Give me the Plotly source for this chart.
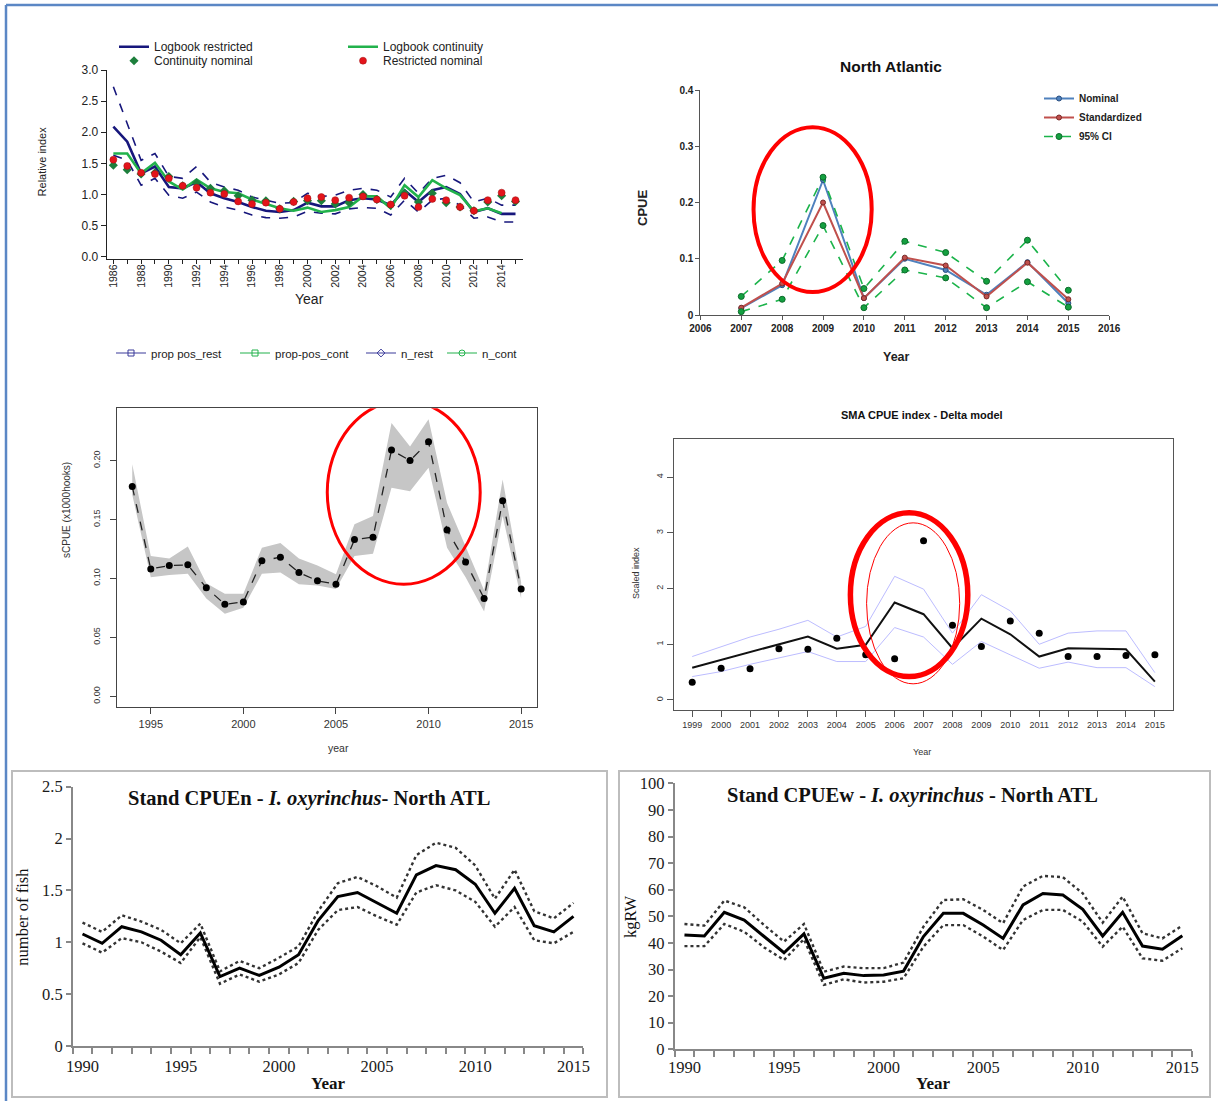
import plotly.graph_objects as go

W, H = 1218, 1101


def fx(p):
    return p / W


def fy(p):
    return 1 - p / H


# ---------------- data ----------------
# Panel 1: Logbook indices
p1_years = list(range(1986, 2016))
p1_restricted = [2.09, 1.85, 1.34, 1.45, 1.12, 1.10, 1.20, 1.02, 0.94, 0.88, 0.80, 0.74, 0.72, 0.75, 0.87,
                 0.81, 0.81, 0.91, 0.94, 0.92, 0.83, 1.07, 0.88, 1.07, 1.12, 1.01, 0.72, 0.78, 0.69, 0.69]
p1_upper = [2.73, 2.14, 1.55, 1.66, 1.29, 1.26, 1.45, 1.20, 1.12, 1.07, 0.96, 0.91, 0.86, 0.87, 1.02,
            0.97, 0.99, 1.07, 1.10, 1.07, 0.96, 1.26, 1.02, 1.26, 1.31, 1.19, 0.88, 0.94, 0.83, 0.83]
p1_lower = [1.63, 1.55, 1.15, 1.26, 0.99, 0.94, 1.04, 0.88, 0.80, 0.75, 0.67, 0.63, 0.62, 0.64, 0.73,
            0.70, 0.69, 0.77, 0.79, 0.78, 0.67, 0.91, 0.72, 0.91, 0.94, 0.83, 0.62, 0.64, 0.56, 0.56]
p1_cont_years = list(range(1986, 2015))
p1_continuity = [1.66, 1.66, 1.34, 1.51, 1.21, 1.08, 1.24, 1.10, 1.04, 1.02, 0.92, 0.85, 0.78, 0.74, 0.79,
                 0.72, 0.75, 0.80, 0.97, 0.97, 0.78, 1.15, 0.96, 1.23, 1.10, 0.99, 0.73, 0.78, 0.70]
p1_cont_nominal = [1.47, 1.40, 1.33, 1.35, 1.29, 1.14, 1.19, 1.10, 1.06, 0.98, 0.91, 0.90, 0.77, 0.89, 0.90,
                   0.90, 0.85, 0.87, 1.00, 0.92, 0.83, 1.02, 0.88, 1.02, 0.87, 0.80, 0.74, 0.88, 0.98, 0.89]
p1_rest_nominal = [1.56, 1.46, 1.35, 1.33, 1.26, 1.14, 1.11, 1.03, 1.01, 0.89, 0.85, 0.87, 0.77, 0.88, 0.94,
                   0.96, 0.91, 0.95, 0.97, 0.92, 0.84, 0.98, 0.80, 0.93, 0.91, 0.80, 0.74, 0.91, 1.03, 0.91]
p1_xticktext = [str(y) if y % 2 == 0 else "" for y in p1_years]
p1_yticks = [0.0, 0.5, 1.0, 1.5, 2.0, 2.5, 3.0]

# Panel 2: North Atlantic
p2_years = list(range(2007, 2016))
p2_nominal = [0.012, 0.053, 0.240, 0.030, 0.100, 0.080, 0.036, 0.094, 0.021]
p2_standardized = [0.013, 0.056, 0.200, 0.030, 0.102, 0.088, 0.033, 0.093, 0.028]
p2_ci_upper = [0.033, 0.097, 0.245, 0.047, 0.131, 0.111, 0.060, 0.133, 0.044]
p2_ci_lower = [0.006, 0.028, 0.159, 0.013, 0.080, 0.066, 0.013, 0.059, 0.014]
p2_xticks = list(range(2006, 2017))
p2_yticks = [0, 0.1, 0.2, 0.3, 0.4]
p2_yticktext = ["0", "0.1", "0.2", "0.3", "0.4"]

# Panel 3: sCPUE
p3_years = list(range(1994, 2016))
p3_scpue = [0.178, 0.108, 0.111, 0.1115, 0.092, 0.078, 0.080, 0.115, 0.118, 0.105, 0.098,
            0.095, 0.133, 0.135, 0.209, 0.200, 0.216, 0.141, 0.114, 0.083, 0.166, 0.091]
p3_upper = [0.197, 0.119, 0.117, 0.127, 0.096, 0.087, 0.087, 0.126, 0.130, 0.117, 0.111,
            0.1035, 0.146, 0.153, 0.232, 0.212, 0.235, 0.164, 0.127, 0.090, 0.184, 0.097]
p3_lower = [0.171, 0.101, 0.103, 0.104, 0.083, 0.070, 0.075, 0.104, 0.105, 0.095, 0.094,
            0.091, 0.119, 0.121, 0.177, 0.174, 0.194, 0.126, 0.101, 0.072, 0.153, 0.083]
p3_xticks = [1995, 2000, 2005, 2010, 2015]
p3_yticks = [0.00, 0.05, 0.10, 0.15, 0.20]
p3_yticktext = ["0.00", "0.05", "0.10", "0.15", "0.20"]

# Panel 4: SMA CPUE index - Delta model
p4_years = list(range(1999, 2016))
p4_nominal = [0.32, 0.57, 0.56, 0.92, 0.91, 1.11, 0.81, 0.74, 2.86, 1.34, 0.96, 1.42, 1.20, 0.78, 0.78, 0.80, 0.81]
p4_index = [0.58, 0.72, 0.86, 1.00, 1.14, 0.92, 0.99, 1.75, 1.54, 0.93, 1.46, 1.18, 0.78, 0.93, 0.92, 0.91, 0.33]
p4_upper = [0.78, 0.96, 1.13, 1.27, 1.43, 1.13, 1.32, 2.22, 1.99, 1.20, 1.89, 1.60, 1.00, 1.20, 1.24, 1.24, 0.49]
p4_lower = [0.42, 0.51, 0.64, 0.75, 0.87, 0.69, 0.69, 1.30, 1.13, 0.64, 1.05, 0.81, 0.57, 0.68, 0.58, 0.58, 0.24]
p4_yticks = [0, 1, 2, 3, 4]

# Panel 5: Stand CPUEn
p5_years = list(range(1990, 2016))
p5_cpuen = [1.08, 0.99, 1.15, 1.10, 1.02, 0.88, 1.09, 0.67, 0.75, 0.68, 0.76, 0.88, 1.21,
            1.44, 1.48, 1.38, 1.28, 1.65, 1.74, 1.70, 1.56, 1.28, 1.52, 1.16, 1.10, 1.25]
p5_upper = [1.19, 1.10, 1.26, 1.20, 1.12, 0.99, 1.18, 0.72, 0.82, 0.75, 0.85, 0.96, 1.30,
            1.57, 1.63, 1.54, 1.43, 1.84, 1.96, 1.91, 1.74, 1.42, 1.70, 1.30, 1.23, 1.38]
p5_lower = [0.99, 0.90, 1.04, 1.00, 0.91, 0.80, 1.05, 0.60, 0.69, 0.62, 0.69, 0.80, 1.12,
            1.31, 1.34, 1.25, 1.17, 1.48, 1.55, 1.50, 1.39, 1.15, 1.34, 1.02, 0.99, 1.10]
p5_yticks = [0, 0.5, 1, 1.5, 2, 2.5]
p5_yticktext = ["0", "0.5", "1", "1.5", "2", "2.5"]

# Panel 6: Stand CPUEw
p6_years = list(range(1990, 2016))
p6_cpuew = [43.0, 42.6, 51.5, 48.6, 42.4, 36.3, 43.4, 26.7, 28.6, 27.7, 27.9, 29.4, 42.4,
            51.1, 51.1, 46.7, 41.7, 54.3, 58.6, 58.0, 52.6, 42.6, 51.5, 38.8, 37.6, 42.7]
p6_upper = [47.1, 46.5, 55.9, 53.4, 46.7, 40.5, 47.1, 29.2, 31.1, 30.5, 30.5, 32.6, 46.1,
            56.1, 56.4, 52.4, 47.4, 61.2, 65.2, 64.7, 58.6, 47.6, 57.4, 43.6, 41.7, 46.5]
p6_lower = [38.8, 38.8, 47.1, 44.2, 38.3, 33.6, 41.4, 24.2, 26.3, 25.1, 25.4, 26.7, 38.6,
            46.7, 46.7, 42.4, 37.3, 48.6, 52.4, 52.4, 48.0, 38.6, 46.1, 34.2, 33.3, 38.0]
p6_yticks = list(range(0, 101, 10))
p56_xticks = [1990, 1995, 2000, 2005, 2010, 2015]

SANS = "Liberation Sans"
SERIF = "Liberation Serif"
NAVY = "#17177c"
GREEN = "#22b24c"

fig = go.Figure()

# ---------------- Panel 1 ----------------
fig.add_trace(go.Scatter(x=p1_years, y=p1_upper, mode="lines", xaxis="x", yaxis="y",
                         line=dict(color=NAVY, width=1.6, dash="dash"), showlegend=False))
fig.add_trace(go.Scatter(x=p1_years, y=p1_lower, mode="lines", xaxis="x", yaxis="y",
                         line=dict(color=NAVY, width=1.6, dash="dash"), showlegend=False))
fig.add_trace(go.Scatter(x=p1_years, y=p1_restricted, mode="lines", xaxis="x", yaxis="y",
                         name="Logbook restricted", legend="legend",
                         line=dict(color=NAVY, width=2.6)))
fig.add_trace(go.Scatter(x=p1_cont_years, y=p1_continuity, mode="lines", xaxis="x", yaxis="y",
                         name="Logbook continuity", legend="legend2",
                         line=dict(color=GREEN, width=2.6)))
fig.add_trace(go.Scatter(x=p1_years, y=p1_cont_nominal, mode="markers", xaxis="x", yaxis="y",
                         name="Continuity nominal", legend="legend3",
                         marker=dict(color="#1d7f3c", symbol="diamond", size=7)))
fig.add_trace(go.Scatter(x=p1_years, y=p1_rest_nominal, mode="markers", xaxis="x", yaxis="y",
                         name="Restricted nominal", legend="legend4",
                         marker=dict(color="#e3141b", symbol="circle", size=7,
                                     line=dict(color="#a01010", width=0.5))))
# legend-only entries below panel 1
fig.add_trace(go.Scatter(x=[None], y=[None], mode="lines+markers", xaxis="x", yaxis="y",
                         name="prop pos_rest", legend="legend5",
                         line=dict(color="#3a3a9a", width=1.2),
                         marker=dict(symbol="square-open", size=6, color="#3a3a9a")))
fig.add_trace(go.Scatter(x=[None], y=[None], mode="lines+markers", xaxis="x", yaxis="y",
                         name="prop-pos_cont", legend="legend6",
                         line=dict(color=GREEN, width=1.2),
                         marker=dict(symbol="square-open", size=6, color=GREEN)))
fig.add_trace(go.Scatter(x=[None], y=[None], mode="lines+markers", xaxis="x", yaxis="y",
                         name="n_rest", legend="legend7",
                         line=dict(color="#3a3a9a", width=1.2),
                         marker=dict(symbol="diamond-open", size=6, color="#3a3a9a")))
fig.add_trace(go.Scatter(x=[None], y=[None], mode="lines+markers", xaxis="x", yaxis="y",
                         name="n_cont", legend="legend8",
                         line=dict(color=GREEN, width=1.2),
                         marker=dict(symbol="circle-open", size=6, color=GREEN)))

# ---------------- Panel 2 ----------------
fig.add_trace(go.Scatter(x=p2_years, y=p2_nominal, mode="lines+markers", xaxis="x2", yaxis="y2",
                         name="Nominal", legend="legend9",
                         line=dict(color="#4f81bd", width=2),
                         marker=dict(color="#4f81bd", size=5, line=dict(color="#2a4f80", width=1))))
fig.add_trace(go.Scatter(x=p2_years, y=p2_standardized, mode="lines+markers", xaxis="x2", yaxis="y2",
                         name="Standardized", legend="legend9",
                         line=dict(color="#c0504d", width=2),
                         marker=dict(color="#c0504d", size=5, line=dict(color="#7a2a28", width=1))))
fig.add_trace(go.Scatter(x=p2_years, y=p2_ci_upper, mode="lines+markers", xaxis="x2", yaxis="y2",
                         name="95% CI", legend="legend9",
                         line=dict(color="#1bb34a", width=1.6, dash="dash"),
                         marker=dict(color="#14a040", size=6, line=dict(color="#0c6b2a", width=1))))
fig.add_trace(go.Scatter(x=p2_years, y=p2_ci_lower, mode="lines+markers", xaxis="x2", yaxis="y2",
                         name="95% CI lower", showlegend=False,
                         line=dict(color="#1bb34a", width=1.6, dash="dash"),
                         marker=dict(color="#14a040", size=6, line=dict(color="#0c6b2a", width=1))))

# ---------------- Panel 3 ----------------
fig.add_trace(go.Scatter(x=p3_years, y=p3_lower, mode="lines", xaxis="x3", yaxis="y3",
                         line=dict(color="rgba(0,0,0,0)", width=0), showlegend=False))
fig.add_trace(go.Scatter(x=p3_years, y=p3_upper, mode="lines", xaxis="x3", yaxis="y3",
                         line=dict(color="rgba(0,0,0,0)", width=0), fill="tonexty",
                         fillcolor="#c6c6c6", showlegend=False))
fig.add_trace(go.Scatter(x=p3_years, y=p3_scpue, mode="lines+markers", xaxis="x3", yaxis="y3",
                         line=dict(color="#222222", width=1.3, dash="dash"),
                         marker=dict(color="black", size=7), showlegend=False))

# ---------------- Panel 4 ----------------
fig.add_trace(go.Scatter(x=p4_years, y=p4_upper, mode="lines", xaxis="x4", yaxis="y4",
                         line=dict(color="#bcbcff", width=1), showlegend=False))
fig.add_trace(go.Scatter(x=p4_years, y=p4_lower, mode="lines", xaxis="x4", yaxis="y4",
                         line=dict(color="#bcbcff", width=1), showlegend=False))
fig.add_trace(go.Scatter(x=p4_years, y=p4_index, mode="lines", xaxis="x4", yaxis="y4",
                         line=dict(color="#111111", width=2), showlegend=False))
fig.add_trace(go.Scatter(x=p4_years, y=p4_nominal, mode="markers", xaxis="x4", yaxis="y4",
                         marker=dict(color="black", size=7), showlegend=False))

# ---------------- Panel 5 ----------------
for arr in (p5_upper, p5_lower):
    fig.add_trace(go.Scatter(x=p5_years, y=arr, mode="lines", xaxis="x5", yaxis="y5",
                             line=dict(color="#333333", width=2.4, dash="dot"), showlegend=False))
fig.add_trace(go.Scatter(x=p5_years, y=p5_cpuen, mode="lines", xaxis="x5", yaxis="y5",
                         line=dict(color="black", width=3), showlegend=False))

# ---------------- Panel 6 ----------------
for arr in (p6_upper, p6_lower):
    fig.add_trace(go.Scatter(x=p6_years, y=arr, mode="lines", xaxis="x6", yaxis="y6",
                             line=dict(color="#333333", width=2.4, dash="dot"), showlegend=False))
fig.add_trace(go.Scatter(x=p6_years, y=p6_cpuew, mode="lines", xaxis="x6", yaxis="y6",
                         line=dict(color="black", width=3), showlegend=False))

# ---------------- axes ----------------
base = dict(showgrid=False, zeroline=False, showline=True, ticks="outside", fixedrange=True,
            automargin=False)

layout_axes = dict(
    xaxis=dict(base, domain=[fx(106.7), fx(523)], range=[1985.52, 2015.54], anchor="y",
               tickvals=p1_years, ticktext=p1_xticktext, tickangle=-90, ticklen=4, ticklabelstandoff=-4,
               linecolor="#222", tickcolor="#222", tickfont=dict(family=SANS, size=10.5, color="#222")),
    yaxis=dict(base, domain=[fy(259.3), fy(70)], range=[-0.04, 3.0], anchor="x",
               tickvals=p1_yticks, tickformat=".1f", ticklen=5,
               linecolor="#222", tickcolor="#222", tickfont=dict(family=SANS, size=12, color="#222")),
    xaxis2=dict(base, domain=[fx(700.4), fx(1109.2)], range=[2006, 2016], anchor="y2",
                tickvals=p2_xticks, ticklen=4, linecolor="#555", tickcolor="#555",
                tickfont=dict(family=SANS, size=10, color="#222", weight="bold")),
    yaxis2=dict(base, domain=[fy(315), fy(90)], range=[0, 0.4], anchor="x2",
                tickvals=p2_yticks, ticktext=p2_yticktext, ticklen=4, linecolor="#555", tickcolor="#555",
                tickfont=dict(family=SANS, size=10, color="#222", weight="bold")),
    xaxis3=dict(base, domain=[fx(116.7), fx(536.7)], range=[1993.16, 2015.84], anchor="y3", mirror=True,
                tickvals=p3_xticks, ticklen=6, linecolor="#444", tickcolor="#444",
                tickfont=dict(family=SANS, size=11, color="#333")),
    yaxis3=dict(base, domain=[fy(707.3), fy(408.3)], range=[-0.0094, 0.2444], anchor="x3", mirror=True,
                tickvals=p3_yticks, ticktext=p3_yticktext, tickangle=-90, ticklen=6, ticklabelstandoff=6,
                linecolor="#444", tickcolor="#444", tickfont=dict(family=SANS, size=9, color="#333")),
    xaxis4=dict(base, domain=[fx(673.7), fx(1173.4)], range=[1998.36, 2015.64], anchor="y4", mirror=True,
                tickvals=p4_years, ticklen=6, linecolor="#555", tickcolor="#555",
                tickfont=dict(family=SANS, size=9, color="#333")),
    yaxis4=dict(base, domain=[fy(710), fy(439.3)], range=[-0.18, 4.68], anchor="x4", mirror=True,
                tickvals=p4_yticks, tickangle=-90, ticklen=6, linecolor="#555", tickcolor="#555",
                tickfont=dict(family=SANS, size=9, color="#333")),
    xaxis5=dict(base, domain=[fx(72.7), fx(583.3)], range=[1989.5, 2015.5], anchor="y5",
                tickvals=p56_xticks, ticklen=0, ticklabelstandoff=4, linecolor="#888", linewidth=1.5,
                minor=dict(ticks="outside", ticklen=6, tick0=1989.5, dtick=1, tickcolor="#888", tickwidth=1.5),
                tickfont=dict(family=SERIF, size=16.5, color="#1a1a1a")),
    yaxis5=dict(base, domain=[fy(1046), fy(786.7)], range=[0, 2.5], anchor="x5",
                tickvals=p5_yticks, ticktext=p5_yticktext, ticklen=5, linecolor="#888", tickcolor="#888",
                linewidth=1.5, tickwidth=1.5, tickfont=dict(family=SERIF, size=16.5, color="#1a1a1a")),
    xaxis6=dict(base, domain=[fx(674.5), fx(1192.3)], range=[1989.5, 2015.5], anchor="y6",
                tickvals=p56_xticks, ticklen=0, ticklabelstandoff=2, linecolor="#888", linewidth=1.5,
                minor=dict(ticks="outside", ticklen=6, tick0=1989.5, dtick=1, tickcolor="#888", tickwidth=1.5),
                tickfont=dict(family=SERIF, size=16.5, color="#1a1a1a")),
    yaxis6=dict(base, domain=[fy(1049.3), fy(783.3)], range=[0, 100], anchor="x6",
                tickvals=p6_yticks, ticklen=5, linecolor="#888", tickcolor="#888",
                linewidth=1.5, tickwidth=1.5, tickfont=dict(family=SERIF, size=16.5, color="#1a1a1a")),
)


def leg(xp, yp, size=10.5, weight="normal", yanchor="middle"):
    return dict(x=fx(xp), y=fy(yp), xanchor="left", yanchor=yanchor, bgcolor="rgba(0,0,0,0)",
                borderwidth=0, orientation="v", tracegroupgap=0, itemclick=False, itemdoubleclick=False,
                font=dict(family=SANS, size=size, color="#222", weight=weight))


legends = dict(
    legend=leg(114, 46.7, size=12),
    legend2=leg(343, 46.7, size=12),
    legend3=leg(114, 60.7, size=12),
    legend4=leg(343, 60.7, size=12),
    legend5=leg(111, 353, size=11.5),
    legend6=leg(235, 353, size=11.5),
    legend7=leg(361, 353, size=11.5),
    legend8=leg(442, 353, size=11.5),
    legend9=leg(1039, 84, size=10, weight="bold", yanchor="top"),
)

# ---------------- annotations ----------------
def ann(text, xp, yp, size, family=SANS, angle=0, color="#222", weight=None):
    f = dict(family=family, size=size, color=color)
    if weight:
        f["weight"] = weight
    return dict(text=text, x=fx(xp), y=fy(yp), xref="paper", yref="paper", showarrow=False,
                xanchor="center", yanchor="middle", textangle=angle, font=f)


annotations = [
    ann("Relative index", 41.7, 161.7, 11, angle=-90),
    ann("Year", 309.3, 299.3, 14),
    ann("North Atlantic", 891, 66, 15.5, weight="bold", color="#111"),
    ann("CPUE", 642, 208, 13, angle=-90, weight="bold"),
    ann("Year", 896, 357, 12.5, weight="bold"),
    ann("sCPUE (x1000hooks)", 67, 510, 10, angle=-90, color="#333"),
    ann("year", 338, 748.3, 10.5, color="#333"),
    ann("SMA CPUE index - Delta model", 922, 415, 11, weight="bold", color="#111"),
    ann("Scaled index", 636, 573, 9, angle=-90, color="#333"),
    ann("Year", 922, 752.3, 9, color="#333"),
    ann("<b>Stand CPUEn - <i>I. oxyrinchus</i>- North ATL</b>", 308.7, 798.3, 20.5, family=SERIF, color="#111"),
    ann("number of fish", 23, 916.7, 16.5, family=SERIF, angle=-90, color="#111"),
    ann("<b>Year</b>", 328, 1083.3, 17, family=SERIF, color="#111"),
    ann("<b>Stand CPUEw - <i>I. oxyrinchus</i> - North ATL</b>", 912.3, 795, 20.5, family=SERIF, color="#111"),
    ann("kgRW", 630.3, 916.7, 16.5, family=SERIF, angle=-90, color="#111"),
    ann("<b>Year</b>", 933.4, 1083.3, 17, family=SERIF, color="#111"),
]

# ---------------- shapes ----------------
shapes = [
    # outer blue border (left and top)
    dict(type="line", xref="paper", yref="paper", x0=fx(6), x1=fx(6), y0=fy(5), y1=0,
         line=dict(color="#5b87c5", width=2.5)),
    dict(type="line", xref="paper", yref="paper", x0=fx(6), x1=1, y0=fy(5), y1=fy(5),
         line=dict(color="#5b87c5", width=2.5)),
    # bottom panel frames
    dict(type="rect", xref="paper", yref="paper", x0=fx(12), x1=fx(607), y0=fy(1097), y1=fy(771),
         line=dict(color="#bdbdbd", width=2)),
    dict(type="rect", xref="paper", yref="paper", x0=fx(619), x1=fx(1210), y0=fy(1097), y1=fy(771),
         line=dict(color="#bdbdbd", width=2)),
    # red highlight ellipses
    dict(type="circle", xref="x2", yref="y2", x0=2007.30, x1=2010.19, y0=0.041, y1=0.334,
         line=dict(color="#ff0000", width=4)),
    dict(type="circle", xref="x3", yref="y3", x0=2004.53, x1=2012.79, y0=0.0951, y1=0.2511,
         line=dict(color="#ff0000", width=3)),
    dict(type="circle", xref="x4", yref="y4", x0=2004.47, x1=2008.53, y0=0.42, y1=3.36,
         line=dict(color="#ff0000", width=5.5)),
    dict(type="circle", xref="x4", yref="y4", x0=2005.03, x1=2008.25, y0=0.29, y1=3.18,
         line=dict(color="#ff0000", width=1)),
]

fig.update_layout(
    width=W, height=H, margin=dict(l=0, r=0, t=0, b=0, pad=0, autoexpand=False),
    paper_bgcolor="white", plot_bgcolor="rgba(0,0,0,0)",
    font=dict(family=SANS, color="#222"),
    annotations=annotations, shapes=shapes, hovermode=False,
    **layout_axes, **legends,
)

fig.write_html("out.html")
